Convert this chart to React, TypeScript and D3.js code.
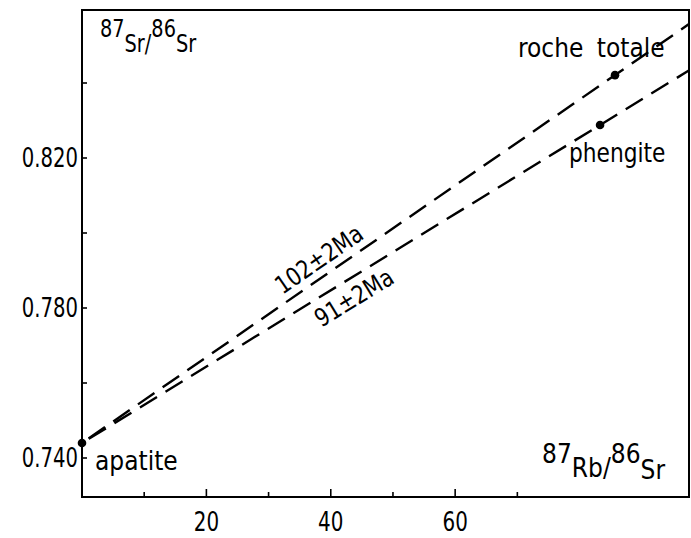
import React from "react";
import * as d3 from "d3";

const samples = ["apatite", "roche totale", "phengite"];
const rbSr = [0, 85.7, 83.3];
const srSr = [0.744, 0.8421, 0.8288];

const isochronLabels = ["102±2Ma", "91±2Ma"];
const isochronEnds = [1, 2]; // index of the sample each isochron passes through (from apatite)

const xMinorTicks = [10, 30, 50, 70];
const xMajorTicks = [20, 40, 60];
const yTicks = [0.74, 0.76, 0.78, 0.8, 0.82, 0.84];
const yLabelValues = [0.74, 0.78, 0.82];
const yLabelTexts = ["0.740", "0.780", "0.820"];

const W = 691;
const H = 538;
const FONT = "'DejaVu Sans Condensed', 'DejaVu Sans', sans-serif";

function NarrowText(props: { x: number; y: number; sx: number; anchor?: string; size: number; children: React.ReactNode }) {
  return (
    <text
      transform={`translate(${props.x},${props.y}) scale(${props.sx},1)`}
      textAnchor={props.anchor || "start"}
      fontFamily={FONT}
      fontSize={props.size}
      fill="#000"
    >
      {props.children}
    </text>
  );
}

export default function App() {
  const left = 82, right = 689, top = 10, bottom = 497;
  const x = d3.scaleLinear().domain([0, 97.6]).range([left, right]);
  const y = d3.scaleLinear().domain([0.74, 0.84]).range([458, 83]);

  const lineGen = d3.line<[number, number]>().x((d) => x(d[0])).y((d) => y(d[1]));

  const isochrons = isochronEnds.map((end, i) => {
    const x0 = rbSr[0], y0 = srSr[0];
    const slope = (srSr[end] - y0) / (rbSr[end] - x0);
    const xEnd = 100;
    const pts: [number, number][] = [[x0, y0], [xEnd, y0 + slope * (xEnd - x0)]];
    const angle = (Math.atan2(y(pts[1][1]) - y(pts[0][1]), x(pts[1][0]) - x(pts[0][0])) * 180) / Math.PI;
    return { pts, slope, angle, label: isochronLabels[i] };
  });

  // label anchors along each line (data x) and perpendicular offsets in px (positive = above the line)
  const labelAt = [39.6, 42.2];
  const labelOff = [17, -18];

  return (
    <svg width={W} height={H} style={{ position: "absolute", left: 0, top: 0, background: "#fff" }}>
      <defs>
        <clipPath id="frame">
          <rect x={left} y={top} width={right - left} height={bottom - top} />
        </clipPath>
      </defs>
      <rect x={0} y={0} width={W} height={H} fill="#fff" />
      {/* frame */}
      <rect x={left} y={top} width={right - left} height={bottom - top} fill="none" stroke="#000" strokeWidth={2} />
      {/* y ticks */}
      {yTicks.map((t) => (
        <line key={"yt" + t} x1={left} x2={left + 5} y1={y(t)} y2={y(t)} stroke="#000" strokeWidth={1.6} />
      ))}
      {yLabelValues.map((v, i) => (
        <NarrowText key={"yl" + v} x={left - 4} y={y(v) + 9} sx={0.84} anchor="end" size={26}>
          {yLabelTexts[i]}
        </NarrowText>
      ))}
      {/* x ticks */}
      {xMinorTicks.map((t) => (
        <line key={"xm" + t} x1={x(t)} x2={x(t)} y1={bottom} y2={bottom - 5} stroke="#000" strokeWidth={1.6} />
      ))}
      {xMajorTicks.map((t) => (
        <line key={"xM" + t} x1={x(t)} x2={x(t)} y1={bottom} y2={bottom - 8} stroke="#000" strokeWidth={1.6} />
      ))}
      {xMajorTicks.map((t) => (
        <NarrowText key={"xl" + t} x={x(t)} y={531} sx={0.82} anchor="middle" size={27}>
          {t}
        </NarrowText>
      ))}
      {/* isochrons */}
      <g clipPath="url(#frame)">
        {isochrons.map((iso, i) => (
          <path
            key={"iso" + i}
            d={lineGen(iso.pts) || ""}
            fill="none"
            stroke="#000"
            strokeWidth={2.4}
            strokeDasharray="20 10"
            strokeDashoffset={-8}
          />
        ))}
      </g>
      {isochrons.map((iso, i) => {
        const xv = labelAt[i];
        const px = x(xv), py = y(srSr[0] + iso.slope * (xv - rbSr[0]));
        const a = (iso.angle * Math.PI) / 180;
        const nx = Math.sin(a), ny = -Math.cos(a); // unit normal pointing up-left
        const cx = px + nx * labelOff[i], cy = py + ny * labelOff[i];
        return (
          <text
            key={"isl" + i}
            transform={`translate(${cx},${cy}) rotate(${iso.angle}) scale(0.92,1)`}
            textAnchor="middle"
            dy="0.36em"
            fontFamily={FONT}
            fontSize={25}
            fill="#000"
          >
            {iso.label}
          </text>
        );
      })}
      {/* points */}
      {samples.map((s, i) => (
        <circle key={s} cx={x(rbSr[i])} cy={y(srSr[i])} r={4.3} fill="#000" />
      ))}
      {/* sample labels */}
      <text x={95} y={470} fontFamily={FONT} fontSize={26} fill="#000">{samples[0]}</text>
      <text x={518} y={57} fontFamily={FONT} fontSize={26} fill="#000" wordSpacing={6}>{samples[1]}</text>
      <NarrowText x={569} y={162} sx={0.93} size={26}>{samples[2]}</NarrowText>
      {/* axis titles */}
      <NarrowText x={100} y={52} sx={0.86} size={25}>
        <tspan dy={-15}>87</tspan>
        <tspan dy={15}>Sr</tspan>
        <tspan>/</tspan>
        <tspan dy={-15}>86</tspan>
        <tspan dy={15}>Sr</tspan>
      </NarrowText>
      <text x={542} y={477} fontFamily={FONT} fontSize={26} fill="#000">
        <tspan dy={-14}>87</tspan>
        <tspan dy={14}>Rb</tspan>
        <tspan>/</tspan>
        <tspan dy={-14}>86</tspan>
        <tspan dy={16}>Sr</tspan>
      </text>
    </svg>
  );
}
